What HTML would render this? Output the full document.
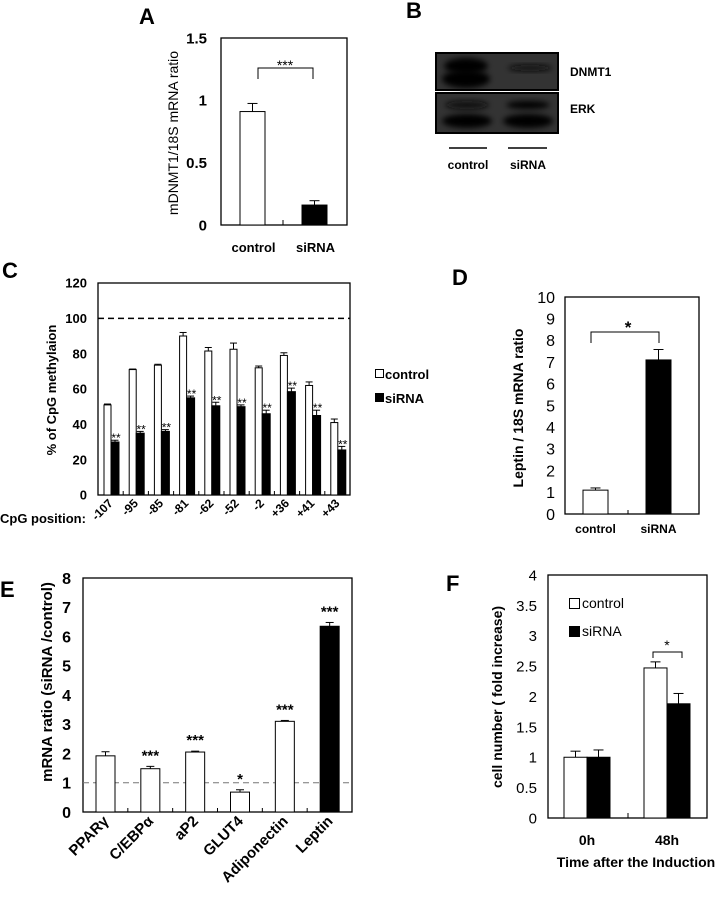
<!DOCTYPE html>
<html><head><meta charset="utf-8"><style>
html,body{margin:0;padding:0;background:#fff;}
svg{display:block;font-family:"Liberation Sans",sans-serif;}
.b{font-weight:bold;}
</style></head><body>
<svg id="fig" width="720" height="901" viewBox="0 0 720 901" xmlns="http://www.w3.org/2000/svg">
<defs>
<filter id="blur" x="-20%" y="-50%" width="140%" height="200%"><feGaussianBlur stdDeviation="3"/></filter>
</defs>
<g id="panelA"></g>
<g id="panelB">
  <text x="406" y="18" font-size="22" class="b">B</text>
  <rect x="436" y="53" width="122" height="37" fill="#333" stroke="#000" stroke-width="2"/>
  <ellipse cx="466" cy="66" rx="22" ry="8" fill="#000" filter="url(#blur)"/>
  <ellipse cx="466" cy="79" rx="24" ry="9" fill="#000" filter="url(#blur)"/>
  <ellipse cx="530" cy="68" rx="22" ry="3" fill="#111" filter="url(#blur)"/>
  <rect x="436" y="93" width="122" height="40" fill="#333" stroke="#000" stroke-width="2"/>
  <ellipse cx="467" cy="105" rx="22" ry="4" fill="#0a0a0a" filter="url(#blur)"/>
  <ellipse cx="528" cy="105" rx="22" ry="4" fill="#050505" filter="url(#blur)"/>
  <ellipse cx="467" cy="121" rx="25" ry="7" fill="#000" filter="url(#blur)"/>
  <ellipse cx="528" cy="121" rx="25" ry="7" fill="#000" filter="url(#blur)"/>
  <text x="570" y="76" font-size="12" class="b">DNMT1</text>
  <text x="570" y="113" font-size="12" class="b">ERK</text>
  <line x1="449" y1="148" x2="487" y2="148" stroke="#000" stroke-width="1.5"/>
  <line x1="508" y1="148" x2="547" y2="148" stroke="#000" stroke-width="1.5"/>
  <text x="468" y="169" font-size="12" class="b" text-anchor="middle">control</text>
  <text x="528" y="169" font-size="12" class="b" text-anchor="middle">siRNA</text>
</g>
<g id="panelC"></g>
<g id="panelD"></g>
<g id="panelE"></g>
<g id="panelF"></g>
</svg>
<script>
// Panel A data
const aCats = ["control", "siRNA"];
const aVals = [0.91, 0.16];
const aErrs = [0.065, 0.035];
const aTicks = ["0", "0.5", "1", "1.5"];
// Panel C data
const cCats = ["-107", "-95", "-85", "-81", "-62", "-52", "-2", "+36", "+41", "+43"];
const cCtrl = [51, 71, 73.5, 90, 81.5, 82.5, 72, 79, 62, 41];
const cCtrlErr = [0.5, 0.3, 0.5, 2, 2, 3.5, 1, 1.5, 2, 2];
const cSi = [30, 35, 36, 55, 50.5, 50, 46, 58.5, 45, 25.5];
const cSiErr = [1, 1, 1, 1, 2, 1, 2, 2, 3, 2];
const cTicks = ["0", "20", "40", "60", "80", "100", "120"];
// Panel D data
const dCats = ["control", "siRNA"];
const dVals = [1.1, 7.1];
const dErrs = [0.1, 0.48];
const dTicks = ["0","1","2","3","4","5","6","7","8","9","10"];
// Panel E data
const eCats = ["PPARγ", "C/EBPα", "aP2", "GLUT4", "Adiponectin", "Leptin"];
const eVals = [1.92, 1.48, 2.05, 0.68, 3.1, 6.35];
const eErrs = [0.14, 0.08, 0.03, 0.08, 0.03, 0.13];
const eStars = ["", "***", "***", "*", "***", "***"];
const eTicks = ["0","1","2","3","4","5","6","7","8"];
// Panel F data
const fCats = ["0h", "48h"];
const fCtrl = [1, 2.47];
const fCtrlErr = [0.1, 0.1];
const fSi = [1, 1.88];
const fSiErr = [0.12, 0.17];
const fTicks = ["0","0.5","1","1.5","2","2.5","3","3.5","4"];

const NS = "http://www.w3.org/2000/svg";
function mk(parent, tag, attrs, txt) {
  const e = document.createElementNS(NS, tag);
  for (const k in attrs) e.setAttribute(k, attrs[k]);
  if (txt !== undefined) e.textContent = txt;
  parent.appendChild(e);
  return e;
}
function scale(d0, d1, r0, r1) { return v => r0 + (v - d0) / (d1 - d0) * (r1 - r0); }
function errBar(g, cx, yTop, yErr, w) {
  const l = mk(g, "line", {x1: cx, y1: yTop, x2: cx, y2: yErr, stroke: "#000", "stroke-width": 1});
  
  
  mk(g, "line", {x1: cx - w, y1: yErr, x2: cx + w, y2: yErr, stroke: "#000", "stroke-width": 1});
}
function yAxis(g, ticks, y, xLab, fs, bold) {
  ticks.forEach(t => {
    const tt = mk(g, "text", {x: xLab, y: y(parseFloat(t)) + fs * 0.36, "font-size": fs, "text-anchor": "end", "font-weight": bold ? "bold" : "normal"}, t);
    
    
  });
}
function frame(g, l, t, r, b, name) {
  const f = mk(g, "rect", {x: l, y: t, width: r - l, height: b - t, fill: "none", stroke: "#000", "stroke-width": 1.3});
  
  
}

// ---------- Panel A ----------
(function(){
  const g = document.getElementById("panelA");
  const L = 221, R = 347, T = 38, B = 225;
  const y = scale(0, 1.5, B, T);
  const t = mk(g, "text", {x: 139, y: 24, "font-size": 22, "font-weight": "bold"}, "A");
  
  
  frame(g, L, T, R, B, "plot-frame-a");
  yAxis(g, aTicks, y, 207, 15, true);
  const xs = [240, 302], w = 25;
  aVals.forEach((v, i) => {
    errBar(g, xs[i] + w / 2, y(v), y(v + aErrs[i]), 5);
    const r = mk(g, "rect", {x: xs[i], y: y(v), width: w, height: B - y(v), fill: i ? "#000" : "#fff", stroke: "#000", "stroke-width": 1});
    
    
    const lb = mk(g, "text", {x: xs[i] + w / 2 + 1, y: 252, "font-size": 13, "font-weight": "bold", "text-anchor": "middle"}, aCats[i]);
    
    
  });
  mk(g, "line", {x1: 283, y1: B, x2: 283, y2: B - 5, stroke: "#000"});
  mk(g, "path", {d: "M258 79 V68 H313 V79", fill: "none", stroke: "#000", "stroke-width": 1});
  const s = mk(g, "text", {x: 285, y: 70, "font-size": 14, "text-anchor": "middle"}, "***");
  
  
  const yt = mk(g, "text", {x: 0, y: 0, "font-size": 14, "text-anchor": "middle", transform: "translate(178,133) rotate(-90)"}, "mDNMT1/18S  mRNA ratio");
  
  
})();

// ---------- Panel C ----------
(function(){
  const g = document.getElementById("panelC");
  const L = 98, R = 350, T = 283, B = 495;
  const y = scale(0, 120, B, T);
  const gw = (R - L) / cCats.length;
  const t = mk(g, "text", {x: 2, y: 278, "font-size": 22, "font-weight": "bold"}, "C");
  
  
  frame(g, L, T, R, B, "plot-frame-c");
  const d = mk(g, "line", {x1: L, y1: y(100), x2: R, y2: y(100), stroke: "#000", "stroke-width": 1.5, "stroke-dasharray": "6,4"});
  
  
  yAxis(g, cTicks, y, 87, 13, true);
  cCats.forEach((c, i) => {
    const x0 = L + i * gw;
    if (i > 0) mk(g, "line", {x1: x0, y1: B, x2: x0, y2: B - 4, stroke: "#000"});
    const cx = x0 + 6, sx = x0 + 13;
    errBar(g, cx + 3.5, y(cCtrl[i]), y(cCtrl[i] + cCtrlErr[i]), 3.5);
    const r1 = mk(g, "rect", {x: cx, y: y(cCtrl[i]), width: 7, height: B - y(cCtrl[i]), fill: "#fff", stroke: "#000", "stroke-width": 1});
    
    
    errBar(g, sx + 4, y(cSi[i]), y(cSi[i] + cSiErr[i]), 3.5);
    const r2 = mk(g, "rect", {x: sx, y: y(cSi[i]), width: 8, height: B - y(cSi[i]), fill: "#000", stroke: "#000", "stroke-width": 1});
    
    
    const st = mk(g, "text", {x: sx + 5, y: y(cSi[i] + cSiErr[i]) + 2, "font-size": 12, "text-anchor": "middle"}, "**");
    
    
    const lb = mk(g, "text", {x: 0, y: 0, "font-size": 12, "font-weight": "bold", "text-anchor": "end", transform: "translate(" + (x0 + gw / 2 + 3) + ",504) rotate(-45)"}, c);
    
    
  });
  const cp = mk(g, "text", {x: 0, y: 523, "font-size": 13, "font-weight": "bold"}, "CpG position:");
  
  
  const yt = mk(g, "text", {x: 0, y: 0, "font-size": 13, "text-anchor": "middle", "font-weight": "bold", transform: "translate(56,390) rotate(-90)"}, "% of CpG methylaion");
  
  
  mk(g, "rect", {x: 375.5, y: 369.5, width: 8, height: 8, fill: "#fff", stroke: "#000"});
  const l1 = mk(g, "text", {x: 385, y: 379, "font-size": 13, "font-weight": "bold"}, "control");
  
  
  mk(g, "rect", {x: 375.5, y: 393.5, width: 8, height: 8, fill: "#000", stroke: "#000"});
  const l2 = mk(g, "text", {x: 385, y: 403, "font-size": 13, "font-weight": "bold"}, "siRNA");
  
  
})();

// ---------- Panel D ----------
(function(){
  const g = document.getElementById("panelD");
  const L = 565, R = 699, T = 297, B = 514;
  const y = scale(0, 10, B, T);
  const t = mk(g, "text", {x: 452, y: 285, "font-size": 22, "font-weight": "bold"}, "D");
  
  
  frame(g, L, T, R, B, "plot-frame-d");
  yAxis(g, dTicks, y, 555, 16, false);
  const xs = [583, 646], w = 25;
  dVals.forEach((v, i) => {
    errBar(g, xs[i] + w / 2, y(v), y(v + dErrs[i]), 5);
    const r = mk(g, "rect", {x: xs[i], y: y(v), width: w, height: B - y(v), fill: i ? "#000" : "#fff", stroke: "#000", "stroke-width": 1});
    
    
    const lb = mk(g, "text", {x: xs[i] + w / 2, y: 533, "font-size": 12, "font-weight": "bold", "text-anchor": "middle"}, dCats[i]);
    
    
  });
  mk(g, "line", {x1: 628, y1: B, x2: 628, y2: B - 4, stroke: "#000"});
  mk(g, "path", {d: "M591 343 V332 H659 V343", fill: "none", stroke: "#000"});
  const s = mk(g, "text", {x: 628, y: 333, "font-size": 17, "font-weight": "bold", "text-anchor": "middle"}, "*");
  
  
  const yt = mk(g, "text", {x: 0, y: 0, "font-size": 14, "text-anchor": "middle", "font-weight": "bold", transform: "translate(523,408) rotate(-90)"}, "Leptin / 18S mRNA ratio");
  
  
})();

// ---------- Panel E ----------
(function(){
  const g = document.getElementById("panelE");
  const L = 83, R = 352, T = 578, B = 812;
  const y = scale(0, 8, B, T);
  const gw = (R - L) / eCats.length;
  const t = mk(g, "text", {x: 0, y: 597, "font-size": 22, "font-weight": "bold"}, "E");
  
  
  frame(g, L, T, R, B, "plot-frame-e");
  yAxis(g, eTicks, y, 71, 16, true);
  const d = mk(g, "line", {x1: L, y1: y(1), x2: R, y2: y(1), stroke: "#777", "stroke-width": 1, "stroke-dasharray": "6,4"});
  
  
  eCats.forEach((c, i) => {
    const x0 = L + i * gw;
    if (i > 0) mk(g, "line", {x1: x0, y1: B, x2: x0, y2: B - 4, stroke: "#000"});
    const bx = x0 + 13, w = 19;
    errBar(g, bx + w / 2, y(eVals[i]), y(eVals[i] + eErrs[i]), 4);
    const r = mk(g, "rect", {x: bx, y: y(eVals[i]), width: w, height: B - y(eVals[i]), fill: i === 5 ? "#000" : "#fff", stroke: "#000", "stroke-width": 1});
    
    
    if (eStars[i]) {
      const st = mk(g, "text", {x: bx + w / 2, y: y(eVals[i] + eErrs[i]) - 6, "font-size": 15, "font-weight": "bold", "text-anchor": "middle"}, eStars[i]);
      
      
    }
    const lb = mk(g, "text", {x: 0, y: 0, "font-size": 15, "font-weight": "bold", "text-anchor": "end", transform: "translate(" + (bx + w / 2 + 4) + ",822) rotate(-45)"}, c);
    
    
  });
  const yt = mk(g, "text", {x: 0, y: 0, "font-size": 15, "text-anchor": "middle", "font-weight": "bold", transform: "translate(52,682) rotate(-90)"}, "mRNA ratio (siRNA /control)");
  
  
})();

// ---------- Panel F ----------
(function(){
  const g = document.getElementById("panelF");
  const L = 548, R = 707, T = 575, B = 818;
  const y = scale(0, 4, B, T);
  const t = mk(g, "text", {x: 446, y: 591, "font-size": 22, "font-weight": "bold"}, "F");
  
  
  frame(g, L, T, R, B, "plot-frame-f");
  yAxis(g, fTicks, y, 537, 15, false);
  const gx = [564, 644], w = 23;
  fCats.forEach((c, i) => {
    errBar(g, gx[i] + w / 2, y(fCtrl[i]), y(fCtrl[i] + fCtrlErr[i]), 5);
    const r1 = mk(g, "rect", {x: gx[i], y: y(fCtrl[i]), width: w, height: B - y(fCtrl[i]), fill: "#fff", stroke: "#000", "stroke-width": 1});
    
    
    errBar(g, gx[i] + w * 1.5, y(fSi[i]), y(fSi[i] + fSiErr[i]), 5);
    const r2 = mk(g, "rect", {x: gx[i] + w, y: y(fSi[i]), width: w, height: B - y(fSi[i]), fill: "#000", stroke: "#000", "stroke-width": 1});
    
    
    const lb = mk(g, "text", {x: gx[i] + w, y: 845, "font-size": 14, "font-weight": "bold", "text-anchor": "middle"}, c);
    
    
  });
  mk(g, "line", {x1: 628, y1: B, x2: 628, y2: B - 5, stroke: "#000"});
  mk(g, "path", {d: "M653 658 V652 H682 V658", fill: "none", stroke: "#000"});
  const s = mk(g, "text", {x: 667, y: 650, "font-size": 14, "text-anchor": "middle"}, "*");
  
  
  mk(g, "rect", {x: 569.5, y: 598.5, width: 10, height: 10, fill: "#fff", stroke: "#000"});
  const l1 = mk(g, "text", {x: 582, y: 608, "font-size": 14}, "control");
  
  
  mk(g, "rect", {x: 569.5, y: 626.5, width: 10, height: 10, fill: "#000", stroke: "#000"});
  const l2 = mk(g, "text", {x: 582, y: 636, "font-size": 14}, "siRNA");
  
  
  const xt = mk(g, "text", {x: 636, y: 867, "font-size": 14, "font-weight": "bold", "text-anchor": "middle"}, "Time after the Induction");
  
  
  const yt = mk(g, "text", {x: 0, y: 0, "font-size": 14, "text-anchor": "middle", "font-weight": "bold", transform: "translate(502,697) rotate(-90)"}, "cell number ( fold increase)");
  
  
})();
</script>
</body></html>
